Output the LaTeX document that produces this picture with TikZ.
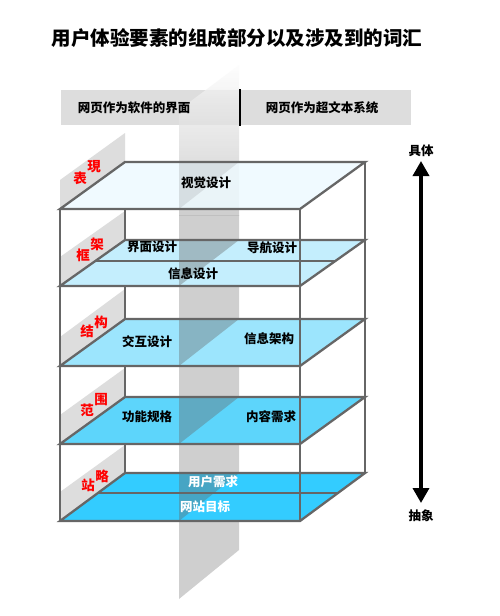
\documentclass[tikz,border=0pt]{standalone}
\usepackage{fontspec}
\newfontfamily\cjk{Noto Sans CJK SC}
\usetikzlibrary{arrows.meta}
\definecolor{edgec}{HTML}{666666}
\definecolor{hdrc}{HTML}{DDDDDD}
\definecolor{stripc}{HTML}{BBBBBB}
\definecolor{panelc}{HTML}{DDDDDD}
\definecolor{pA}{HTML}{EEFAFF}
\definecolor{pB}{HTML}{C4EEFD}
\definecolor{pC}{HTML}{9CE5FD}
\definecolor{pD}{HTML}{5DD5FB}
\definecolor{pE}{HTML}{33CCFF}
\begin{document}
\begin{tikzpicture}[x=1pt,y=-1pt,
  frame/.style={draw=edgec,line width=2.3pt,line join=miter},
  lbl/.style={font=\cjk\bfseries\fontsize{12.5}{14}\selectfont,inner sep=0pt},
  redlbl/.style={font=\cjk\bfseries\fontsize{13.5}{15}\selectfont,inner sep=0pt,text=red},
  panel/.style={fill=panelc},
  overlay/.style={fill=gray!80!black,fill opacity=0.38},
  hdr/.style={fill=hdrc}]
\useasboundingbox[fill=white] (0,0) rectangle (500,616);

% title
\node[font=\cjk\bfseries\fontsize{19.5}{22}\selectfont,inner sep=0pt] (title) at (237,38) {用户体验要素的组成部分以及涉及到的词汇};

% headers
\fill[hdr] (61,90) rectangle (239,125);
\fill[hdr] (241,90) rectangle (411,125);

% vertical strip
\begin{scope}
  \clip (179,110) -- (239,65) -- (239,550) -- (179,599) -- cycle;
  \shade[top color=white,bottom color=stripc,fill opacity=0.7] (170,60) rectangle (250,215);
  \fill[stripc,fill opacity=0.7] (170,214.5) rectangle (250,610);
\end{scope}
\draw[black,line width=2pt] (240,89) -- (240,126);
\node[lbl] (h1) at (134,108) {网页作为软件的界面};
\node[lbl] (h2) at (322,108) {网页作为超文本系统};

% side panels
\fill[panel] (60,209) -- (125,162) -- (125,133) -- (60,180) -- cycle;
\fill[panel] (60,286) -- (125,240) -- (125,211) -- (60,257) -- cycle;
\fill[panel] (60,366) -- (125,319) -- (125,289) -- (60,337) -- cycle;
\fill[panel] (60,444) -- (125,397) -- (125,368) -- (60,415) -- cycle;
\fill[panel] (60,521) -- (125,473) -- (125,445) -- (60,492) -- cycle;

% back verticals
\draw[frame] (125,209) -- (125,473);
\draw[frame] (365,162) -- (365,473);

% planes
\fill[pA,fill opacity=0.85] (60,209) -- (300,209) -- (365,162) -- (125,162) -- cycle;
\fill[pB] (60,286) -- (300,286) -- (365,240) -- (125,240) -- cycle;
\fill[pC] (60,366) -- (300,366) -- (365,319) -- (125,319) -- cycle;
\fill[pD] (60,444) -- (300,444) -- (365,397) -- (125,397) -- cycle;
\fill[pE] (60,521) -- (300,521) -- (365,473) -- (125,473) -- cycle;

% strip in front of planes
\fill[overlay,fill opacity=0.15] (179,209) -- (239,162) -- (179,162) -- cycle;
\fill[overlay] (179,286) -- (239,240) -- (179,240) -- cycle;
\fill[overlay] (179,366) -- (239,319) -- (179,319) -- cycle;
\fill[overlay] (179,444) -- (239,397) -- (179,397) -- cycle;
\fill[overlay] (179,521) -- (239,473) -- (179,473) -- cycle;

% plane outlines
\draw[frame] (60,209) -- (300,209) -- (365,162) -- (125,162) -- cycle;
\draw[frame] (60,286) -- (300,286) -- (365,240) -- (125,240) -- cycle;
\draw[frame] (60,366) -- (300,366) -- (365,319) -- (125,319) -- cycle;
\draw[frame] (60,444) -- (300,444) -- (365,397) -- (125,397) -- cycle;
\draw[frame] (60,521) -- (300,521) -- (365,473) -- (125,473) -- cycle;
% dividers
\draw[frame] (96.1,261) -- (336.1,261);
\draw[frame] (98,493) -- (338,493);
% front verticals
\draw[frame] (60,209) -- (60,521);
\draw[frame] (300,209) -- (300,521);

% layer labels
\node[lbl] (l1) at (206,183) {视觉设计};
\node[lbl] (l2a) at (152,247) {界面设计};
\node[lbl] (l2b) at (272,248) {导航设计};
\node[lbl] (l2c) at (193,274) {信息设计};
\node[lbl] (l3a) at (147,342) {交互设计};
\node[lbl] (l3b) at (269,339) {信息架构};
\node[lbl] (l4a) at (147,417) {功能规格};
\node[lbl] (l4b) at (271,417) {内容需求};
\node[lbl,text=white] (l5a) at (213,482) {用户需求};
\node[lbl,text=white] (l5b) at (205,507) {网站目标};

% red plane names
\node[redlbl] (r1a) at (80,178) {表};
\node[redlbl] (r1b) at (94,167) {現};
\node[redlbl] (r2a) at (83,255) {框};
\node[redlbl] (r2b) at (97,244) {架};
\node[redlbl] (r3a) at (87,331) {结};
\node[redlbl] (r3b) at (101,322) {构};
\node[redlbl] (r4a) at (87,410) {范};
\node[redlbl] (r4b) at (101,400) {围};
\node[redlbl] (r5a) at (88,485) {站};
\node[redlbl] (r5b) at (102,476) {略};

% axis
\node[lbl] (conc) at (421,151) {具体};
\node[lbl] (abst) at (421,516) {抽象};
\coordinate (atop) at (421,161);
\coordinate (abot) at (421,503);
\draw[line width=3.5pt,{Triangle[length=15pt,width=16pt]}-{Triangle[length=15pt,width=16pt]}] (atop) -- (abot);
\end{tikzpicture}
\end{document}
